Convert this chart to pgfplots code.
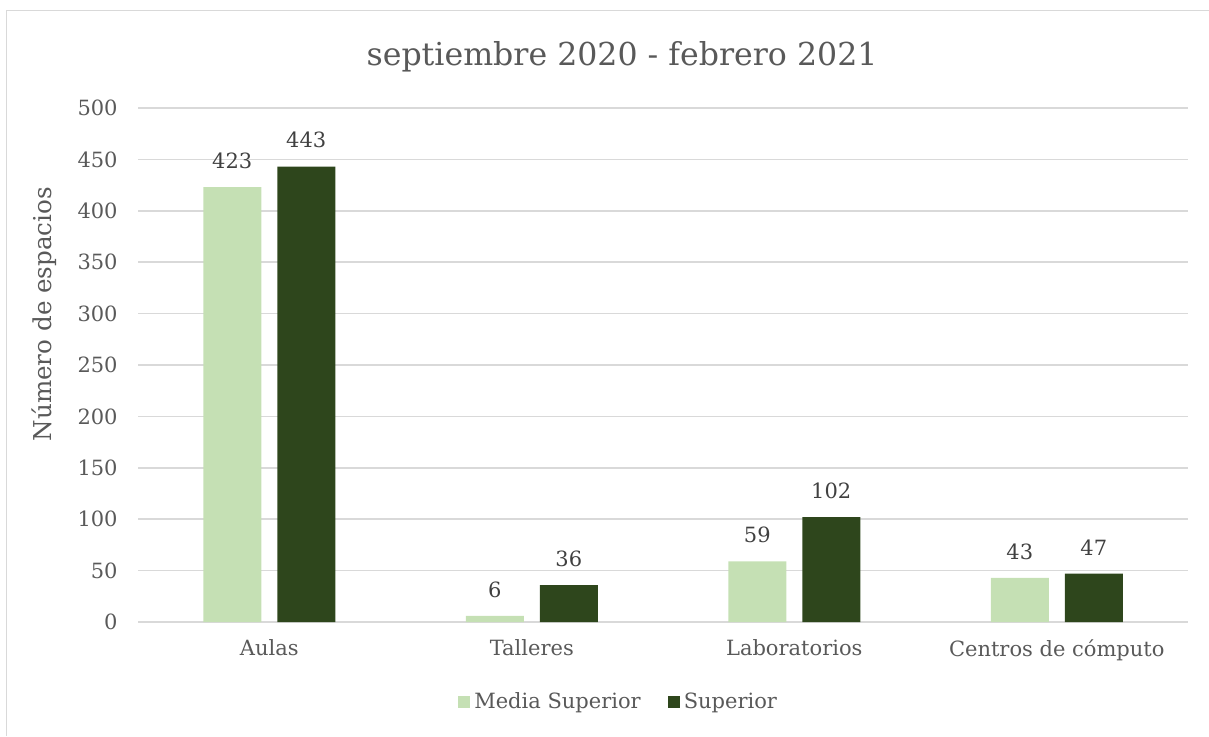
\documentclass[border=0pt]{standalone}
\usepackage{pgfplots}
\pgfplotsset{compat=1.18}
\usepackage{fontspec}
\setmainfont{DejaVu Serif}
\definecolor{lightg}{HTML}{C5E0B4}
\definecolor{darkg}{HTML}{2E461C}
\definecolor{gridc}{HTML}{D9D9D9}
\definecolor{txt}{HTML}{595959}
\definecolor{lbl}{HTML}{404040}
\begin{document}
\begin{tikzpicture}
\useasboundingbox (0,0) rectangle (604.5pt,368pt);
% chart frame (only top and left edges are visible)
\draw[gridc, line width=0.75pt] (3.25pt,0) -- (3.25pt,362.75pt) -- (604.5pt,362.75pt);
\begin{axis}[
    at={(69pt,57pt)}, anchor=south west,
    scale only axis,
    width=525pt, height=257pt,
    ybar, bar width=29pt,
    xmin=-0.5, xmax=3.5,
    ymin=0, ymax=500,
    xtick={0,1,2,3},
    xticklabels={Aulas,Talleres,Laboratorios,Centros de cómputo},
    ytick={0,50,...,500},
    major tick length=0pt,
    axis x line*=bottom, axis y line*=left,
    y axis line style={draw=none},
    x axis line style={gridc, line width=0.75pt},
    ymajorgrids,
    grid style={gridc, line width=0.75pt},
    /pgf/number format/assume math mode=true,
    tick label style={font=\fontsize{10.5}{12}\selectfont, text=txt, inner sep=0pt},
    yticklabel style={xshift=-10pt},
    xticklabel style={yshift=-8.5pt},
    title={septiembre 2020 - febrero 2021},
    title style={at={(rel axis cs:0.461,1)}, anchor=center, yshift=19.5pt,
        font=\fontsize{15.8}{18}\selectfont, text=txt},
    ylabel={Número de espacios},
    every axis y label/.style={at={(rel axis cs:-0.0895,0.599)}, rotate=90, anchor=center,
        font=\fontsize{12.3}{14}\selectfont, text=txt},
    nodes near coords,
    every node near coord/.append style={font=\fontsize{10.5}{12}\selectfont, text=lbl,
        anchor=south, inner sep=0pt, yshift=9pt},
    legend style={at={(0.4587,-0.1556)}, anchor=center, draw=none, legend columns=2,
        font=\fontsize{10.5}{12}\selectfont, text=txt,
        /tikz/every even column/.append style={column sep=11.5pt}},
    legend image code/.code={\fill[#1] (-1pt,-3pt) rectangle (5pt,3pt);},
]
\addplot[fill=lightg, draw=none, bar shift=-18.5pt] coordinates {(0,423) (1,6) (2,59) (3,43)};
\addplot[fill=darkg, draw=none, bar shift=18.5pt] coordinates {(0,443) (1,36) (2,102) (3,47)};
\legend{Media Superior, Superior}
\end{axis}
\end{tikzpicture}
\end{document}
